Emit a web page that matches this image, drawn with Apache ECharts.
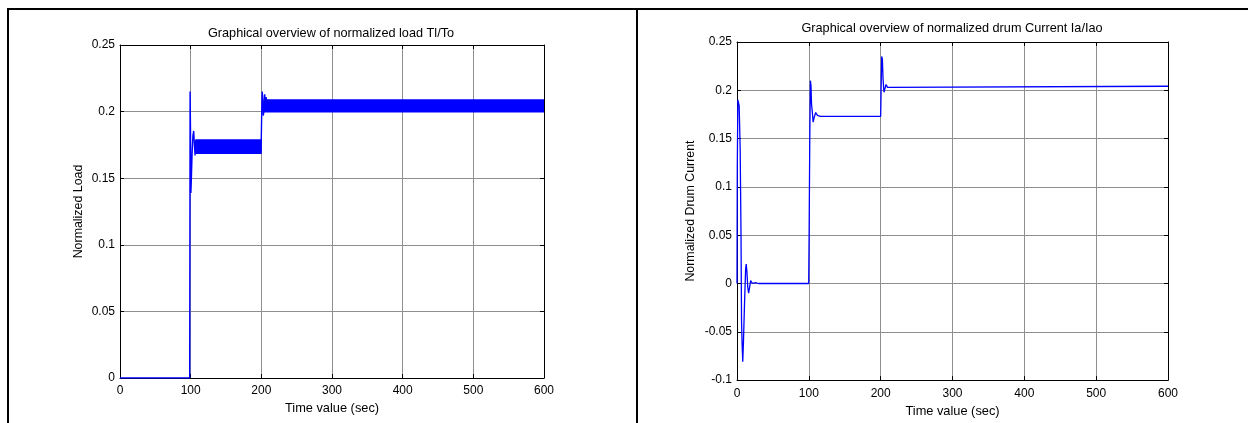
<!DOCTYPE html>
<html>
<head>
<meta charset="utf-8">
<script src="https://cdn.jsdelivr.net/npm/echarts@6/dist/echarts.min.js"></script>
<style>
html,body{margin:0;padding:0;background:#fff;}
#chart{position:absolute;left:0;top:0;width:1248px;height:423px;}
.fr{position:absolute;background:#000;z-index:5;}
</style>
</head>
<body>
<div id="chart"></div>
<div class="fr" style="left:7px;top:8px;width:1241px;height:2px;"></div>
<div class="fr" style="left:7px;top:8px;width:2px;height:415px;"></div>
<div class="fr" style="left:636px;top:8px;width:2px;height:415px;"></div>
<script>
// ---------- data ----------
const timeTicks = [0, 100, 200, 300, 400, 500, 600];
const loadTicks = [0, 0.05, 0.1, 0.15, 0.2, 0.25];
const currentTicks = [-0.1, -0.05, 0, 0.05, 0.1, 0.15, 0.2, 0.25];

// normalized load Tl/To : transient line [time, value]
const loadLine = [
  [0, 0], [98.6, 0], [99.2, 0.215], [99.7, 0.19], [100.3, 0.139], [101, 0.15],
  [102, 0.168], [103.2, 0.182], [104.3, 0.1855], [105.2, 0.176], [106.2, 0.167],
  [107.2, 0.179], [108, 0.169],
  [199.6, 0.169], [200.4, 0.195], [201.2, 0.215], [202, 0.211], [202.8, 0.197],
  [203.8, 0.201], [204.8, 0.213], [205.8, 0.2], [206.8, 0.211], [207.8, 0.2], [208.6, 0.209]
];
// fast-oscillation envelopes [time, low, high]
const loadBand1 = [[107.5, 0.1682, 0.1792], [200.3, 0.1682, 0.1792]];
const loadBand2 = [[203, 0.1993, 0.2093], [600, 0.1993, 0.2093]];

// normalized drum current Ia/Iao [time, value]
const currentLine = [
  [0, 0], [0.4, 0.12], [1.2, 0.19], [2.4, 0.191], [3, 0.184], [3.8, 0.185],
  [4.4, 0.14], [5.1, 0.139], [5.6, 0.05], [6.3, -0.038], [7, -0.06], [8, -0.081],
  [9, -0.06], [10.5, -0.02], [12, 0.015], [12.8, 0.02], [13.8, 0.012], [15, -0.004],
  [16.2, -0.01], [17.3, -0.005], [19, 0.003], [20, 0.004], [21.5, 0.0], [23, -0.001],
  [25.5, 0.001], [30, 0],
  [99.8, 0], [100.4, 0.05], [101.3, 0.15], [102.2, 0.21], [103, 0.205], [103.8, 0.185],
  [104.8, 0.178], [106, 0.167], [107.5, 0.172], [109.5, 0.177], [112, 0.174], [116, 0.173],
  [200, 0.173], [200.6, 0.2], [201.4, 0.235], [202.4, 0.232], [203.3, 0.212],
  [204.6, 0.198], [206, 0.202], [207.5, 0.206], [209.5, 0.203], [212, 0.2045],
  [600, 0.2042]
];

const titles = [
  'Graphical overview of normalized load Tl/To',
  'Graphical overview of normalized drum Current Ia/Iao'
];
const xName = 'Time value (sec)';
const yNames = ['Normalized Load', 'Normalized Drum Current'];

// ---------- chart ----------
const FONT = '"Liberation Sans", Arial, sans-serif';
const BLUE = '#0000ff';
const chart = echarts.init(document.getElementById('chart'), null, {renderer: 'canvas'});

function bottomX(gridIndex, gap, margin) {
  return {
    type: 'value', gridIndex, position: 'bottom',
    min: timeTicks[0], max: timeTicks[timeTicks.length - 1],
    interval: timeTicks[1] - timeTicks[0],
    name: xName, nameLocation: 'middle', nameGap: gap,
    nameTextStyle: {fontFamily: FONT, fontSize: 12.8, color: '#000'},
    axisLine: {show: true, onZero: false, lineStyle: {color: '#000', width: 1}},
    axisTick: {show: true, inside: true, length: 4, lineStyle: {color: '#000'}},
    axisLabel: {fontFamily: FONT, fontSize: 12, color: '#000', margin: margin, showMaxLabel: true, showMinLabel: true},
    splitLine: {show: true, lineStyle: {color: '#8f8f8f', width: 1}}
  };
}
function topX(gridIndex) {
  return {
    type: 'value', gridIndex, position: 'top',
    min: timeTicks[0], max: timeTicks[timeTicks.length - 1],
    interval: timeTicks[1] - timeTicks[0],
    axisLine: {show: true, onZero: false, lineStyle: {color: '#000', width: 1}},
    axisTick: {show: true, inside: true, length: 4, lineStyle: {color: '#000'}},
    axisLabel: {show: false}, splitLine: {show: false}
  };
}
function leftY(gridIndex, ticks, name, gap) {
  return {
    type: 'value', gridIndex, position: 'left',
    min: ticks[0], max: ticks[ticks.length - 1], interval: ticks[1] - ticks[0],
    name: name, nameLocation: 'middle', nameGap: gap,
    nameTextStyle: {fontFamily: FONT, fontSize: 12.4, color: '#000'},
    axisLine: {show: true, onZero: false, lineStyle: {color: '#000', width: 1}},
    axisTick: {show: true, inside: true, length: 4, lineStyle: {color: '#000'}},
    axisLabel: {fontFamily: FONT, fontSize: 12, color: '#000', margin: 5, showMaxLabel: true, showMinLabel: true},
    splitLine: {show: true, lineStyle: {color: '#8f8f8f', width: 1}}
  };
}
function rightY(gridIndex, ticks) {
  return {
    type: 'value', gridIndex, position: 'right',
    min: ticks[0], max: ticks[ticks.length - 1], interval: ticks[1] - ticks[0],
    axisLine: {show: true, onZero: false, lineStyle: {color: '#000', width: 1}},
    axisTick: {show: true, inside: true, length: 4, lineStyle: {color: '#000'}},
    axisLabel: {show: false}, splitLine: {show: false}
  };
}
function band(rows, xi, yi) {
  return {
    type: 'custom', xAxisIndex: xi, yAxisIndex: yi, data: rows,
    encode: {x: 0, y: [1, 2]}, clip: true, silent: true,
    renderItem: function (params, api) {
      if (params.dataIndex !== 0) return null;
      const pts = [];
      rows.forEach(r => pts.push(api.coord([r[0], r[2]])));
      rows.slice().reverse().forEach(r => pts.push(api.coord([r[0], r[1]])));
      return {type: 'polygon', shape: {points: pts}, style: {fill: BLUE}};
    }
  };
}
function line(data, xi, yi, w) {
  return {
    type: 'line', xAxisIndex: xi, yAxisIndex: yi, data: data,
    showSymbol: false, symbol: 'none', silent: true,
    lineStyle: {color: BLUE, width: w}, z: 3
  };
}

chart.setOption({
  animation: false,
  backgroundColor: '#fff',
  title: [
    {text: titles[0], left: 331, top: 27, textAlign: 'center', padding: 0,
     textStyle: {fontFamily: FONT, fontSize: 12.7, fontWeight: 'normal', color: '#000'}},
    {text: titles[1], left: 952, top: 22, textAlign: 'center', padding: 0,
     textStyle: {fontFamily: FONT, fontSize: 12.7, fontWeight: 'normal', color: '#000'}}
  ],
  grid: [
    {left: 120, top: 45, width: 424, height: 333},
    {left: 737, top: 42, width: 431, height: 340}
  ],
  xAxis: [bottomX(0, 23, 7), topX(0), bottomX(1, 24, 8), topX(1)],
  yAxis: [leftY(0, loadTicks, yNames[0], 35), rightY(0, loadTicks),
          leftY(1, currentTicks, yNames[1], 40), rightY(1, currentTicks)],
  series: [
    band(loadBand1, 0, 0),
    band(loadBand2, 0, 0),
    line(loadLine, 0, 0, 1.4),
    line(currentLine, 2, 2, 1.3)
  ]
});
</script>
</body>
</html>
